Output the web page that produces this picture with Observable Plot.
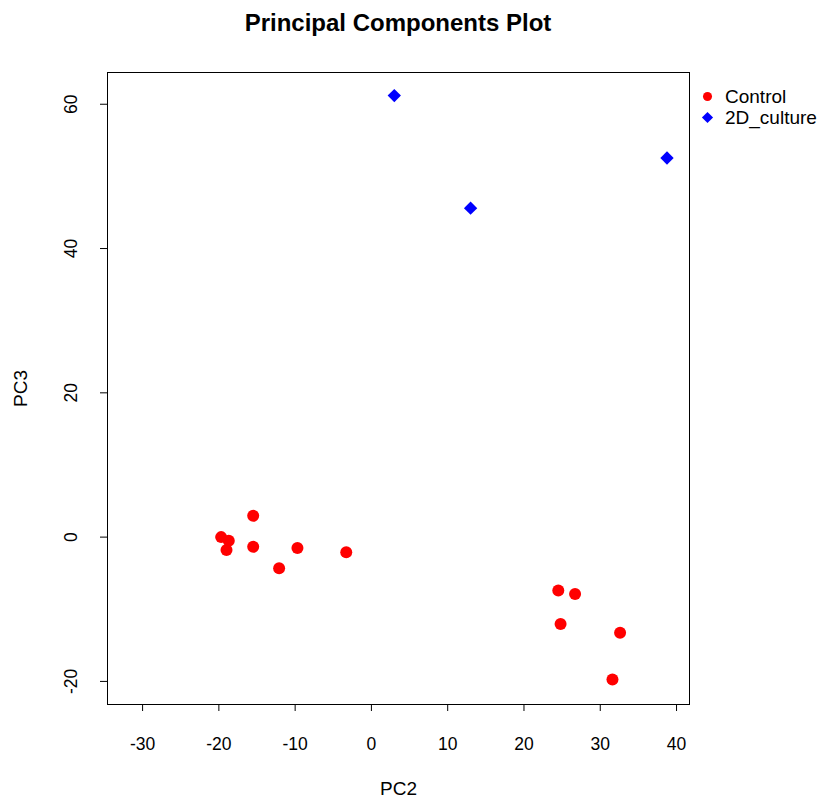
<!DOCTYPE html>
<html>
<head>
<meta charset="utf-8">
<script src="https://cdn.jsdelivr.net/npm/d3@7"></script>
<script src="https://cdn.jsdelivr.net/npm/@observablehq/plot@0.6"></script>
<style>
  body { margin: 0; background: #fff; font-family: "Liberation Sans", Arial, Helvetica, sans-serif; }
  #wrap { position: relative; width: 825px; height: 801px; }
  #title { position: absolute; left: 107px; width: 582px; top: 8px; text-align: center;
           font-weight: bold; font-size: 24px; line-height: 30px; color: #000; }
  #legend { position: absolute; left: 698px; top: 86px; font-size: 19px; color: #000; }
  #legend .row { display: flex; align-items: center; height: 21px; }
  #legend .row span { margin-left: 8px; }
</style>
</head>
<body>
<div id="wrap">
  <div id="chart"></div>
  <div id="title">Principal Components Plot</div>
  <div id="legend"></div>
</div>
<script>
// PCA scores (PC2, PC3) per sample group
const controlPC2 = [-19.7, -18.7, -19.0, -15.5, -15.5, -9.7, -12.1, -3.3, 24.5, 26.7, 24.8, 32.6, 31.6];
const controlPC3 = [0.0, -0.5, -1.8, 2.95, -1.35, -1.5, -4.3, -2.1, -7.4, -7.9, -12.05, -13.25, -19.75];
const culturePC2 = [3.0, 13.0, 38.75];
const culturePC3 = [61.2, 45.6, 52.55];

const groups = ["Control", "2D_culture"];
const groupColors = ["#ff0000", "#0000ff"];
const groupSymbols = ["circle", "diamond2"];

const xTicks = [-30, -20, -10, 0, 10, 20, 30, 40];
const yTicks = [-20, 0, 20, 40, 60];

const control = controlPC2.map((x, i) => ({pc2: x, pc3: controlPC3[i]}));
const culture = culturePC2.map((x, i) => ({pc2: x, pc3: culturePC3[i]}));

const font = '"Liberation Sans", Arial, Helvetica, sans-serif';
const plain = d => String(d); // ASCII hyphen for negatives

const chart = Plot.plot({
  width: 825,
  height: 801,
  marginLeft: 107,
  marginRight: 136,
  marginTop: 72,
  marginBottom: 97,
  x: {domain: [-34.6, 41.7]},
  y: {domain: [-23.2, 64.4]},
  style: {fontFamily: font, fontSize: "17.5px", color: "#000", background: "#fff"},
  marks: [
    Plot.frame({stroke: "#000", strokeWidth: 1}),
    Plot.axisX(xTicks, {tickSize: 7, tickPadding: 26, fontSize: 17.5, tickFormat: plain, label: null, stroke: "#000"}),
    Plot.axisY(yTicks, {tickSize: 7, tickFormat: () => "", label: null, stroke: "#000"}),
    Plot.text(yTicks, {y: d => d, text: plain, frameAnchor: "left", dx: -36,
      rotate: -90, textAnchor: "middle", lineAnchor: "middle", fontSize: 17.5, fill: "#000"}),
    Plot.text(["PC2"], {text: d => d, frameAnchor: "bottom", dy: 84, lineAnchor: "middle",
      fontSize: 19, fill: "#000"}),
    Plot.text(["PC3"], {text: d => d, frameAnchor: "left", dx: -87, rotate: -90,
      lineAnchor: "middle", textAnchor: "middle", fontSize: 19, fill: "#000"}),
    Plot.dot(control, {x: "pc2", y: "pc3", r: 6, symbol: groupSymbols[0], fill: groupColors[0], stroke: "none"}),
    Plot.dot(culture, {x: "pc2", y: "pc3", r: 6, symbol: groupSymbols[1], fill: groupColors[1], stroke: "none"})
  ]
});
document.getElementById("chart").appendChild(chart);

// legend: symbol + group name
const legend = d3.select("#legend");
groups.forEach((g, i) => {
  const row = legend.append("div").attr("class", "row");
  const svg = row.append("svg").attr("width", 19).attr("height", 21);
  const sym = groupSymbols[i] === "circle" ? d3.symbolCircle : d3.symbolDiamond2;
  svg.append("path")
    .attr("transform", "translate(9.5,10.5)")
    .attr("d", d3.symbol(sym, i === 0 ? 64 : 80)())
    .attr("fill", groupColors[i]);
  row.append("span").text(g);
});
</script>
</body>
</html>
